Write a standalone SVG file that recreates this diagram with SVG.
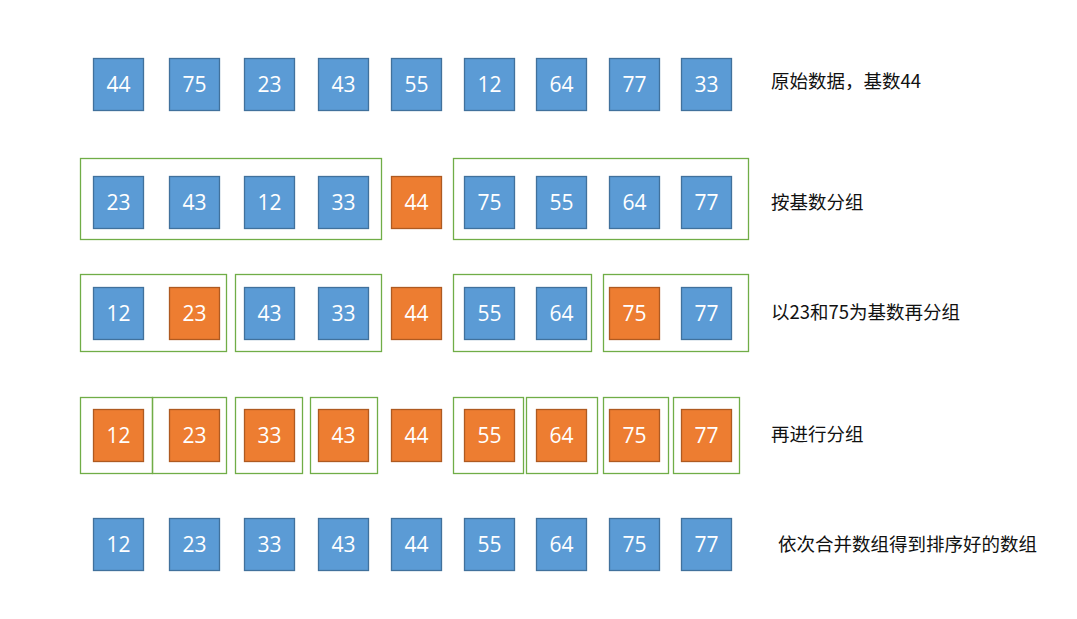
<svg xmlns="http://www.w3.org/2000/svg" width="1077" height="619" viewBox="0 0 1077 619">
<style>
.b{fill:#5B9BD5;stroke:#41719C;stroke-width:1.3}
.o{fill:#ED7D31;stroke:#AE5A21;stroke-width:1.3}
.g{fill:none;stroke:#70AD47;stroke-width:1.3}
.n{font-family:"Open Sans","Liberation Sans",sans-serif;font-size:21px;fill:#fff;text-anchor:middle}
.l{font-family:"Noto Sans CJK SC","Liberation Sans",sans-serif;font-size:18.5px;fill:#111}
</style>
<rect width="1077" height="619" fill="#fff"/>
<g id="groups">
<rect class="g" x="80.5" y="158.5" width="301" height="81"/>
<rect class="g" x="453.5" y="158.5" width="295" height="81"/>
<rect class="g" x="80.5" y="274.5" width="146" height="77"/>
<rect class="g" x="235.5" y="274.5" width="146" height="77"/>
<rect class="g" x="453.5" y="274.5" width="138" height="77"/>
<rect class="g" x="603.5" y="274.5" width="145" height="77"/>
<rect class="g" x="80.5" y="397.5" width="72" height="76"/>
<rect class="g" x="152.5" y="397.5" width="74" height="76"/>
<rect class="g" x="235.5" y="397.5" width="67" height="76"/>
<rect class="g" x="310.5" y="397.5" width="67" height="76"/>
<rect class="g" x="453.5" y="397.5" width="70" height="76"/>
<rect class="g" x="526.5" y="397.5" width="71" height="76"/>
<rect class="g" x="603.5" y="397.5" width="65" height="76"/>
<rect class="g" x="673.5" y="397.5" width="66" height="76"/>
</g>
<g id="row1">
<rect class="b" x="93.5" y="58.5" width="50" height="52"/><text class="n" x="118.5" y="92">44</text>
<rect class="b" x="169.5" y="58.5" width="50" height="52"/><text class="n" x="194.5" y="92">75</text>
<rect class="b" x="244.5" y="58.5" width="50" height="52"/><text class="n" x="269.5" y="92">23</text>
<rect class="b" x="318.5" y="58.5" width="50" height="52"/><text class="n" x="343.5" y="92">43</text>
<rect class="b" x="391.5" y="58.5" width="50" height="52"/><text class="n" x="416.5" y="92">55</text>
<rect class="b" x="464.5" y="58.5" width="50" height="52"/><text class="n" x="489.5" y="92">12</text>
<rect class="b" x="536.5" y="58.5" width="50" height="52"/><text class="n" x="561.5" y="92">64</text>
<rect class="b" x="609.5" y="58.5" width="50" height="52"/><text class="n" x="634.5" y="92">77</text>
<rect class="b" x="681.5" y="58.5" width="50" height="52"/><text class="n" x="706.5" y="92">33</text>
<text class="l" x="771" y="88">原始数据，基数44</text>
</g>
<g id="row2">
<rect class="b" x="93.5" y="176.5" width="50" height="52"/><text class="n" x="118.5" y="210">23</text>
<rect class="b" x="169.5" y="176.5" width="50" height="52"/><text class="n" x="194.5" y="210">43</text>
<rect class="b" x="244.5" y="176.5" width="50" height="52"/><text class="n" x="269.5" y="210">12</text>
<rect class="b" x="318.5" y="176.5" width="50" height="52"/><text class="n" x="343.5" y="210">33</text>
<rect class="o" x="391.5" y="176.5" width="50" height="52"/><text class="n" x="416.5" y="210">44</text>
<rect class="b" x="464.5" y="176.5" width="50" height="52"/><text class="n" x="489.5" y="210">75</text>
<rect class="b" x="536.5" y="176.5" width="50" height="52"/><text class="n" x="561.5" y="210">55</text>
<rect class="b" x="609.5" y="176.5" width="50" height="52"/><text class="n" x="634.5" y="210">64</text>
<rect class="b" x="681.5" y="176.5" width="50" height="52"/><text class="n" x="706.5" y="210">77</text>
<text class="l" x="771" y="209">按基数分组</text>
</g>
<g id="row3">
<rect class="b" x="93.5" y="287.5" width="50" height="52"/><text class="n" x="118.5" y="321">12</text>
<rect class="o" x="169.5" y="287.5" width="50" height="52"/><text class="n" x="194.5" y="321">23</text>
<rect class="b" x="244.5" y="287.5" width="50" height="52"/><text class="n" x="269.5" y="321">43</text>
<rect class="b" x="318.5" y="287.5" width="50" height="52"/><text class="n" x="343.5" y="321">33</text>
<rect class="o" x="391.5" y="287.5" width="50" height="52"/><text class="n" x="416.5" y="321">44</text>
<rect class="b" x="464.5" y="287.5" width="50" height="52"/><text class="n" x="489.5" y="321">55</text>
<rect class="b" x="536.5" y="287.5" width="50" height="52"/><text class="n" x="561.5" y="321">64</text>
<rect class="o" x="609.5" y="287.5" width="50" height="52"/><text class="n" x="634.5" y="321">75</text>
<rect class="b" x="681.5" y="287.5" width="50" height="52"/><text class="n" x="706.5" y="321">77</text>
<text class="l" x="771" y="319">以23和75为基数再分组</text>
</g>
<g id="row4">
<rect class="o" x="93.5" y="409.5" width="50" height="52"/><text class="n" x="118.5" y="443">12</text>
<rect class="o" x="169.5" y="409.5" width="50" height="52"/><text class="n" x="194.5" y="443">23</text>
<rect class="o" x="244.5" y="409.5" width="50" height="52"/><text class="n" x="269.5" y="443">33</text>
<rect class="o" x="318.5" y="409.5" width="50" height="52"/><text class="n" x="343.5" y="443">43</text>
<rect class="o" x="391.5" y="409.5" width="50" height="52"/><text class="n" x="416.5" y="443">44</text>
<rect class="o" x="464.5" y="409.5" width="50" height="52"/><text class="n" x="489.5" y="443">55</text>
<rect class="o" x="536.5" y="409.5" width="50" height="52"/><text class="n" x="561.5" y="443">64</text>
<rect class="o" x="609.5" y="409.5" width="50" height="52"/><text class="n" x="634.5" y="443">75</text>
<rect class="o" x="681.5" y="409.5" width="50" height="52"/><text class="n" x="706.5" y="443">77</text>
<text class="l" x="771" y="441">再进行分组</text>
</g>
<g id="row5">
<rect class="b" x="93.5" y="518.5" width="50" height="52"/><text class="n" x="118.5" y="552">12</text>
<rect class="b" x="169.5" y="518.5" width="50" height="52"/><text class="n" x="194.5" y="552">23</text>
<rect class="b" x="244.5" y="518.5" width="50" height="52"/><text class="n" x="269.5" y="552">33</text>
<rect class="b" x="318.5" y="518.5" width="50" height="52"/><text class="n" x="343.5" y="552">43</text>
<rect class="b" x="391.5" y="518.5" width="50" height="52"/><text class="n" x="416.5" y="552">44</text>
<rect class="b" x="464.5" y="518.5" width="50" height="52"/><text class="n" x="489.5" y="552">55</text>
<rect class="b" x="536.5" y="518.5" width="50" height="52"/><text class="n" x="561.5" y="552">64</text>
<rect class="b" x="609.5" y="518.5" width="50" height="52"/><text class="n" x="634.5" y="552">75</text>
<rect class="b" x="681.5" y="518.5" width="50" height="52"/><text class="n" x="706.5" y="552">77</text>
<text class="l" x="778" y="551">依次合并数组得到排序好的数组</text>
</g>
</svg>
